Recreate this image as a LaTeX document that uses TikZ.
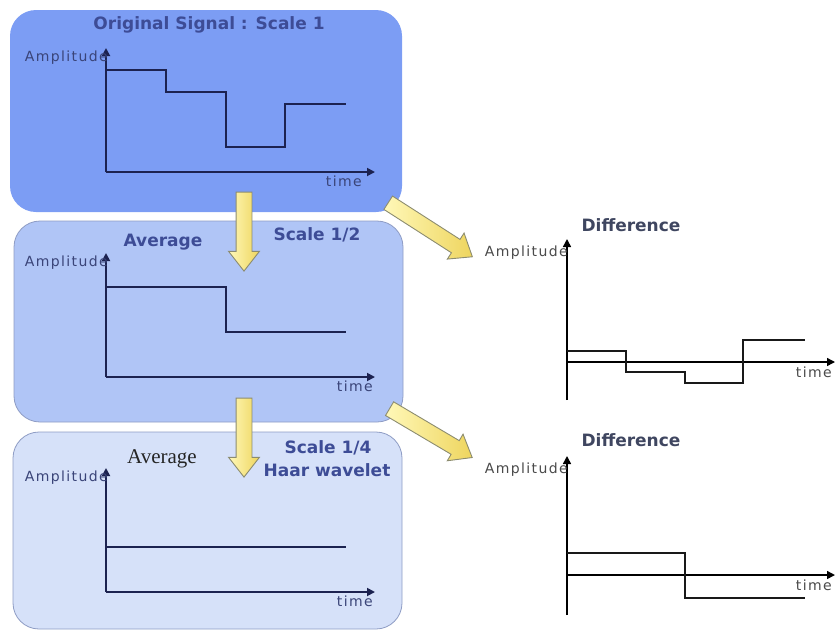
\documentclass[tikz,border=0pt]{standalone}
\usepackage{fontspec}
\setmainfont{DejaVu Sans}
\newfontfamily\axisfont[LetterSpace=10]{DejaVu Sans}
\newfontfamily\oldface{Liberation Serif}
\usetikzlibrary{arrows.meta,positioning,shapes.arrows}

\definecolor{scaleone}{HTML}{7C9DF4}
\definecolor{scalehalf}{HTML}{B0C5F6}
\definecolor{scalequarter}{HTML}{D6E1F9}
\definecolor{panelrim}{HTML}{8E9CC4}
\definecolor{headblue}{HTML}{3D4C96}
\definecolor{inkblue}{HTML}{1C2250}
\definecolor{labelblue}{HTML}{3A4478}
\definecolor{diffgrey}{HTML}{3F4660}
\definecolor{labelgrey}{HTML}{4A4A4A}
\definecolor{arrowedge}{HTML}{8C8C70}
\definecolor{arrowlight}{HTML}{FFF8B8}
\definecolor{arrowdark}{HTML}{EED55E}

\tikzset{
  panel/.style={rounded corners=26pt, inner sep=0pt, line width=0.8pt},
  heading/.style={font=\bfseries\fontsize{17}{19}\selectfont, text=headblue, inner sep=0pt},
  axlabel/.style={font=\axisfont\fontsize{14}{16}\selectfont, inner sep=0pt},
  axis/.style={line width=1.8pt, -{Triangle[length=8pt,width=8pt]}},
  signal/.style={line width=1.6pt},
  yarrow/.style={single arrow, draw=arrowedge, line width=0.9pt,
    left color=arrowlight, right color=arrowdark,
    inner xsep=0pt, inner ysep=7.5pt, single arrow head extend=7.5pt,
    single arrow tip angle=76, single arrow head indent=0pt},
}

\begin{document}
\begin{tikzpicture}[x=1pt,y=-1pt]
\useasboundingbox (0,0) rectangle (838,630);

% the three scales
\node[panel, fill=scaleone, minimum width=392pt, minimum height=202pt] (scale1) at (206,111) {};
\node[panel, fill=scalehalf, draw=panelrim, minimum width=389pt, minimum height=201pt] (scale2) at (208.5,321.5) {};
\node[panel, fill=scalequarter, draw=panelrim, minimum width=389pt, minimum height=197pt] (scale3) at (207.5,530.5) {};

\node[heading] (title1) at (209,25) {Original Signal : Scale 1};
\node[heading] (avg2) at (163,242) {Average};
\node[heading] (title2) at (317,235) {Scale 1/2};
\node[font=\oldface\fontsize{21}{23}\selectfont, text=black!85, inner sep=0pt] (avg3) at (162,459) {Average};
\node[heading] (title3) at (328,448) {Scale 1/4};
\node[heading] (haar) at (327,470) {Haar wavelet};

% axes of the averages
\foreach \i/\y/\tx in {1/172/362, 2/377/373, 3/592/373}{
  \coordinate (orig\i) at (106,\y);
  \coordinate (ytip\i) at (106,\y-124);
  \coordinate (xtip\i) at (375,\y);
  \draw[axis, inkblue] (orig\i) -- (ytip\i);
  \draw[axis, inkblue] (orig\i) -- (xtip\i);
  \node[axlabel, text=labelblue, anchor=east] (amp\i) at (108,\y-114) {Amplitude};
  \node[axlabel, text=labelblue, anchor=east] (time\i) at (\tx,\y+9) {time};
}

\draw[signal, inkblue] (106,70) -| (166,92) -| (226,147) -| (285,104) -- (346,104);
\draw[signal, inkblue] (106,287) -| (226,332) -- (346,332);
\draw[signal, inkblue] (106,547) -- (346,547);

% axes of the differences
\foreach \i/\y/\yb/\yt/\ya in {1/362/400/239/225, 2/575/615/456/440}{
  \coordinate (dorig\i) at (567,\y);
  \coordinate (dbot\i) at (567,\yb);
  \coordinate (dytip\i) at (567,\yt);
  \coordinate (dxtip\i) at (835,\y);
  \draw[axis, line width=1.5pt, black] (dbot\i) -- (dytip\i);
  \draw[axis, line width=1.5pt, black] (dorig\i) -- (dxtip\i);
  \node[heading, text=diffgrey] (diff\i) at (631,\ya) {Difference};
  \node[axlabel, text=labelgrey, anchor=east] (damp\i) at (568,\yt+14) {Amplitude};
  \node[axlabel, text=labelgrey, anchor=east] (dtime\i) at (832,\y+10) {time};
}

\draw[signal, line width=1.4pt, black!90] (567,351) -| (626,372) -| (685,383) -| (743,340) -- (805,340);
\draw[signal, line width=1.4pt, black!90] (567,553) -| (685,598) -- (805,598);

% yellow arrows
\node[yarrow, minimum height=79pt, rotate=-90] (down1) at (244,226.5) {};
\node[yarrow, minimum height=79pt, rotate=-90] (down2) at (244,432.5) {};
\node[yarrow, minimum height=100pt, rotate=-32.7] (side1) at (426,227) {};
\node[yarrow, minimum height=96pt, rotate=-30.6] (side2) at (426.5,430.5) {};

\end{tikzpicture}
\end{document}
